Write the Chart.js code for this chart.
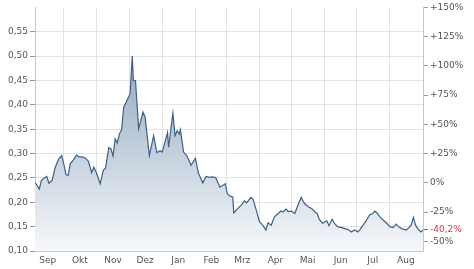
<!DOCTYPE html>
<html>
<head>
<meta charset="utf-8">
<script src="https://cdn.jsdelivr.net/npm/chart.js@4/dist/chart.umd.min.js"></script>
<style>
  html, body { margin: 0; padding: 0; background: #fff; }
  canvas { display: block; }
</style>
</head>
<body>
<canvas id="chart" width="474" height="269"></canvas>
<script>
// days counted from 1 Sep, price in EUR
const days = [3, 5, 7, 9, 11, 14, 16, 19, 22, 25, 28, 30, 32, 34, 36, 39, 42, 44, 47, 50,
  53, 56, 58, 60, 64, 67, 69, 72, 74, 76, 78, 80, 82, 84, 86, 89, 92, 94, 95, 97,
  100, 104, 106, 110, 114, 117, 120, 122, 127, 128, 132, 134, 136, 138, 139, 142, 145, 149, 153, 156,
  160, 163, 166, 169, 172, 176, 181, 183, 186, 188, 189, 193, 196, 199, 201, 205, 207, 210, 213, 216,
  219, 221, 224, 227, 230, 233, 235, 238, 240, 243, 246, 249, 252, 255, 258, 262, 265, 267, 269, 272,
  276, 278, 281, 283, 286, 290, 293, 296, 299, 302, 305, 307, 310, 313, 316, 319, 321, 323, 326, 329,
  332, 335, 338, 341, 343, 346, 350, 352, 355, 357, 359, 361, 364, 366];
const prices = [0.240, 0.235, 0.227, 0.245, 0.249, 0.253, 0.239, 0.245, 0.272, 0.288, 0.296, 0.278, 0.257, 0.255, 0.279, 0.287, 0.297, 0.293, 0.293, 0.291,
  0.284, 0.261, 0.272, 0.263, 0.238, 0.266, 0.270, 0.312, 0.310, 0.295, 0.330, 0.322, 0.340, 0.349, 0.395, 0.409, 0.423, 0.500, 0.450, 0.450,
  0.351, 0.385, 0.375, 0.296, 0.337, 0.302, 0.306, 0.303, 0.343, 0.313, 0.383, 0.337, 0.347, 0.340, 0.349, 0.303, 0.296, 0.276, 0.290, 0.259,
  0.240, 0.253, 0.251, 0.252, 0.251, 0.231, 0.238, 0.217, 0.212, 0.211, 0.178, 0.188, 0.194, 0.203, 0.199, 0.210, 0.206, 0.184, 0.160, 0.153,
  0.143, 0.158, 0.153, 0.170, 0.176, 0.182, 0.180, 0.186, 0.181, 0.182, 0.177, 0.194, 0.210, 0.198, 0.192, 0.187, 0.180, 0.177, 0.165, 0.157,
  0.162, 0.152, 0.165, 0.157, 0.150, 0.148, 0.146, 0.144, 0.139, 0.143, 0.139, 0.144, 0.153, 0.163, 0.174, 0.177, 0.182, 0.178, 0.169, 0.163,
  0.157, 0.150, 0.148, 0.155, 0.150, 0.146, 0.143, 0.146, 0.153, 0.169, 0.153, 0.146, 0.139, 0.1435];

const monthNames = ['Sep', 'Okt', 'Nov', 'Dez', 'Jan', 'Feb', 'Mrz', 'Apr', 'Mai', 'Jun', 'Jul', 'Aug'];
const monthStarts = [0, 30, 61, 91, 122, 153, 182, 213, 243, 274, 304, 335];
const priceTicks = [0.10, 0.15, 0.20, 0.25, 0.30, 0.35, 0.40, 0.45, 0.50, 0.55];
const pctTicks = [-50, -40.2, -25, 0, 25, 50, 75, 100, 125, 150];
const basePrice = 0.24;
const lastPct = -40.2;

const xMin = 3, xMax = 366;
const yMin = 0.10, yMax = 0.60;

const textColor = '#555';
const gridColor = '#e3e3e3';
const font = { family: 'DejaVu Sans', size: 9 };

// month starts get a grid line, mid-month gets the label
const xTicks = [];
monthStarts.forEach((d, i) => {
  if (d >= xMin) xTicks.push({ value: d, label: '' });
  xTicks.push({ value: d + 15, label: monthNames[i] });
});

const fmt = (v, dec) => v.toFixed(dec).replace('.', ',');

const ctx = document.getElementById('chart').getContext('2d');
new Chart(ctx, {
  type: 'line',
  data: {
    datasets: [{
      data: days.map((d, i) => ({ x: d, y: prices[i] })),
      borderColor: '#3f5f86',
      borderWidth: 1.2,
      pointRadius: 0,
      tension: 0,
      fill: 'start',
      backgroundColor: (c) => {
        const area = c.chart.chartArea;
        if (!area) return 'rgba(150,170,195,0.5)';
        const g = c.chart.ctx.createLinearGradient(0, area.top, 0, area.bottom);
        g.addColorStop(0, '#7d93b0');
        g.addColorStop(0.5, '#b9c6d6');
        g.addColorStop(1, '#f6f8fb');
        return g;
      }
    }]
  },
  options: {
    responsive: false,
    animation: false,
    layout: { padding: { top: 7, left: 0, right: 0, bottom: 0 } },
    plugins: { legend: { display: false }, tooltip: { enabled: false } },
    scales: {
      x: {
        type: 'linear',
        min: xMin,
        max: xMax,
        afterBuildTicks: (s) => { s.ticks = xTicks.map(t => ({ value: t.value })); },
        afterFit: (s) => { s.height = 18; },
        ticks: {
          color: textColor,
          font: font,
          padding: 4,
          autoSkip: false,
          maxRotation: 0,
          callback: (v) => {
            const t = xTicks.find(k => k.value === v);
            return t ? t.label : '';
          }
        },
        grid: {
          drawTicks: false,
          color: (c) => {
            const t = xTicks.find(k => k.value === c.tick.value);
            return t && t.label === '' ? gridColor : 'rgba(0,0,0,0)';
          }
        },
        border: { color: '#c8c8c8' }
      },
      y: {
        position: 'left',
        min: yMin,
        max: yMax,
        afterBuildTicks: (s) => { s.ticks = priceTicks.map(v => ({ value: v })); },
        afterFit: (s) => { s.width = 35; },
        ticks: {
          color: textColor,
          font: font,
          padding: 2,
          callback: (v) => fmt(v, 2)
        },
        grid: { color: gridColor, tickLength: 5, tickColor: '#999' },
        border: { color: '#c8c8c8' }
      },
      pct: {
        position: 'right',
        min: (yMin / basePrice - 1) * 100,
        max: (yMax / basePrice - 1) * 100,
        afterBuildTicks: (s) => { s.ticks = pctTicks.map(v => ({ value: v })); },
        afterFit: (s) => { s.width = 51; },
        ticks: {
          font: font,
          padding: 2,
          color: (c) => c.tick && c.tick.value === lastPct ? '#d23a52' : textColor,
          callback: (v) => {
            if (v === lastPct) return fmt(v, 1) + '%';
            return (v > 0 ? '+' : '') + v + '%';
          }
        },
        grid: {
          drawOnChartArea: false,
          tickLength: 5,
          color: (c) => c.tick && c.tick.value === lastPct ? '#d23a52' : '#999'
        },
        border: { color: '#c8c8c8' }
      }
    }
  }
});
</script>
</body>
</html>
